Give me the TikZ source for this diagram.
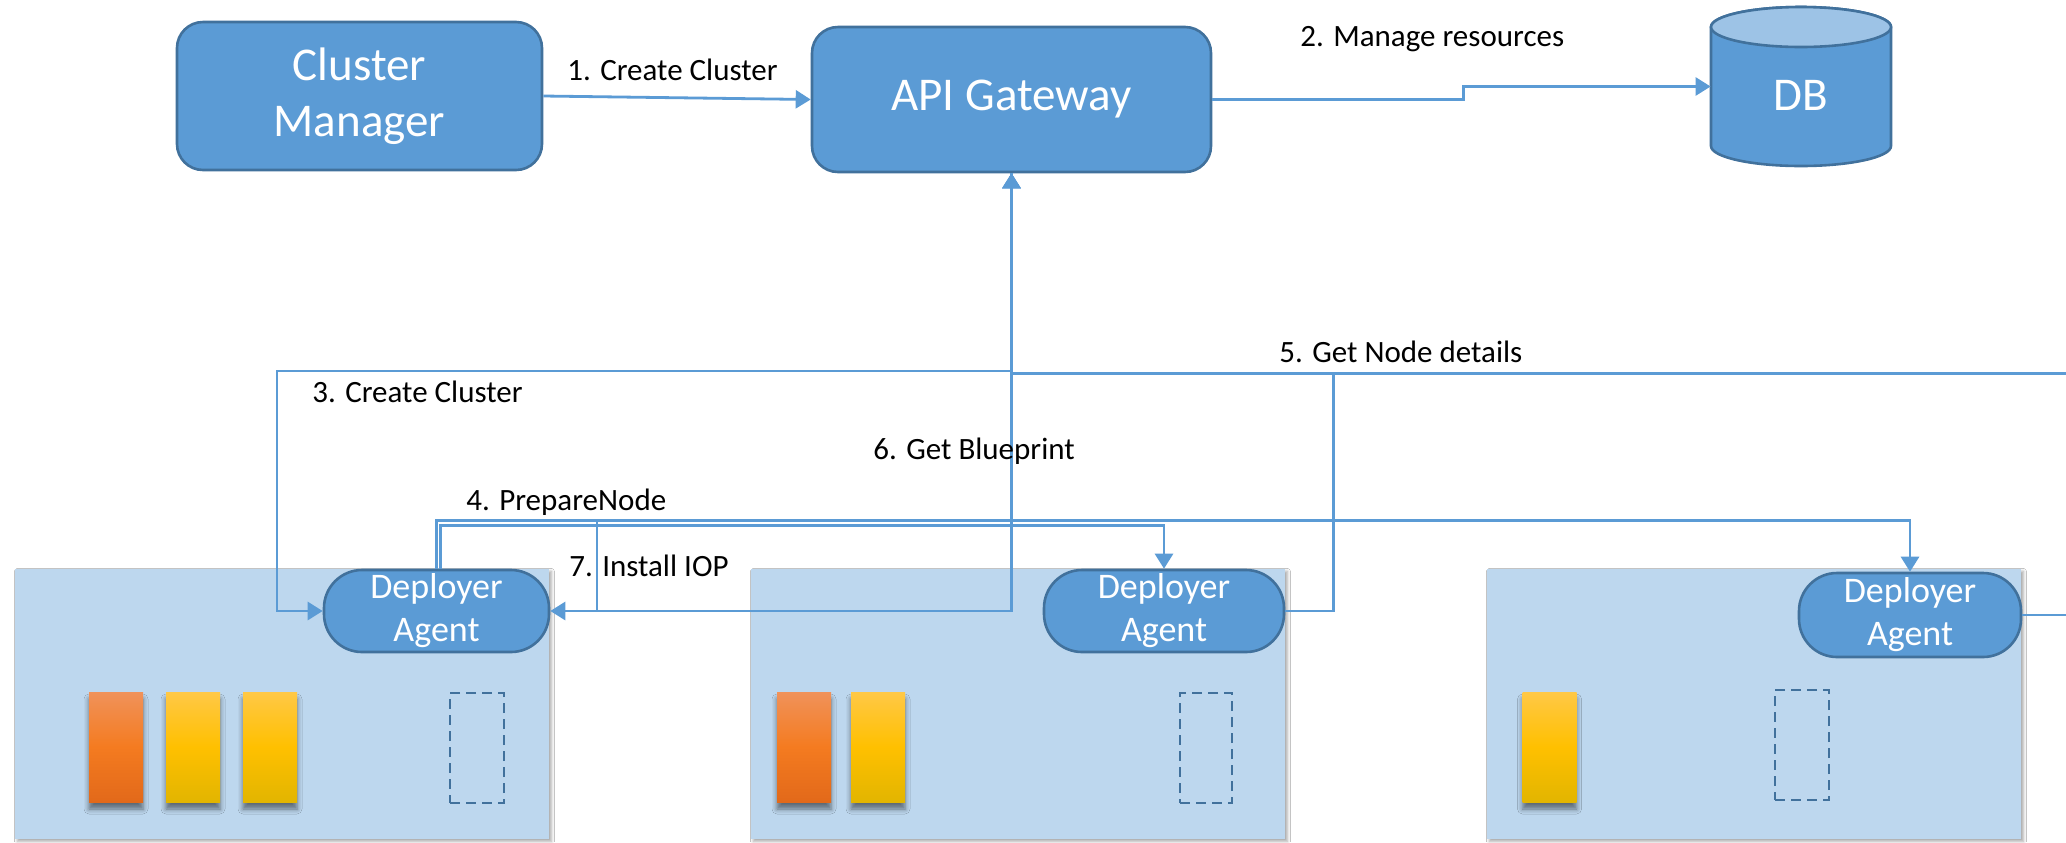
\documentclass[tikz,border=0pt]{standalone}
\usepackage{fontspec}
\setmainfont{Carlito}
\usetikzlibrary{arrows.meta,shadows.blur,calc}
\definecolor{boxblue}{HTML}{5B9BD5}
\definecolor{edgeblue}{HTML}{41719C}
\definecolor{paneblue}{HTML}{BDD7EE}
\definecolor{dbtop}{HTML}{9DC3E6}
\definecolor{wireblue}{HTML}{5B9BD5}
\definecolor{orangetop}{HTML}{F0925A}
\definecolor{orangemid}{HTML}{F47B20}
\definecolor{orangebot}{HTML}{E2691A}
\definecolor{goldtop}{HTML}{FFC846}
\definecolor{goldmid}{HTML}{FFC000}
\definecolor{goldbot}{HTML}{E2B500}

\begin{document}
\begin{tikzpicture}[x=0.5pt,y=-0.5pt,
  block/.style={draw=edgeblue,line width=1.3pt,fill=boxblue,rounded corners=13pt,
    text=white,font=\fontsize{23.5}{28}\selectfont,align=center,inner sep=0pt},
  agent/.style={draw=edgeblue,line width=1.3pt,fill=boxblue,rounded corners=19pt,
    text=white,font=\fontsize{18}{21.5}\selectfont,align=center,inner sep=0pt,
    minimum height=41pt},
  pane/.style={fill=paneblue,minimum width=267pt,minimum height=135pt,inner sep=0pt,
    blur shadow={shadow xshift=1.2pt,shadow yshift=-1.2pt,shadow blur radius=1.5pt,shadow opacity=35}},
  bar/.style={minimum width=27pt,minimum height=55pt,inner sep=0pt,
    blur shadow={shadow xshift=0pt,shadow yshift=-3.5pt,shadow blur radius=2.5pt,shadow opacity=50}},
  hot/.style={bar,top color=orangetop,bottom color=orangebot,middle color=orangemid},
  warm/.style={bar,top color=goldtop,bottom color=goldbot,middle color=goldmid},
  slot/.style={draw=edgeblue,line width=1.2pt,dash pattern=on 5pt off 3pt,
    minimum width=27pt,minimum height=55pt,inner sep=0pt},
  wire/.style={draw=wireblue,line width=1.4pt},
  arrowed/.style={wire,-{Triangle[length=7.5pt,width=9pt]}},
  lbl/.style={font=\fontsize{15.5}{18}\selectfont,inner sep=0pt,anchor=base west},
]
\useasboundingbox (0,0) rectangle (2066,842);
\clip (0,0) rectangle (2066,842);
\fill[white] (0,0) rectangle (2066,842);

% host panels
\node[pane] (p1) at (282,704) {};
\node[pane] (p2) at (1018,704) {};
\node[pane] (p3) at (1754,704) {};

% service bars and free slots
\node[hot]  (b11) at (116,747) {};
\node[warm] (b12) at (193,747) {};
\node[warm] (b13) at (270,747) {};
\node[slot] (s1)  at (477,748) {};
\node[hot]  (b21) at (804,747) {};
\node[warm] (b22) at (878,747) {};
\node[slot,minimum width=26pt] (s2) at (1206,748) {};
\node[warm] (b31) at (1549.5,747) {};
\node[slot] (s3)  at (1802,745) {};

% deployer agents
\node[agent,minimum width=112.5pt] (a1) at (436.5,611) {Deployer\\Agent};
\node[agent,minimum width=120pt] (a2) at (1164,611) {Deployer\\Agent};
\node[agent,minimum width=111pt,minimum height=42pt] (a3) at (1910,615) {Deployer\\Agent};

% top row
\node[block,minimum width=182.5pt,minimum height=74pt] (cm) at (359.5,96) {Cluster\\Manager};
\node[block,minimum width=199.5pt,minimum height=72.5pt] (gw) at (1011.5,99.5) {API Gateway};

% database cylinder
\filldraw[fill=boxblue,draw=edgeblue,line width=1.3pt]
  (1711,27) -- (1711,146)
  arc[start angle=180,end angle=360,x radius=45pt,y radius=10pt]
  -- (1891,27)
  arc[start angle=0,end angle=180,x radius=45pt,y radius=10pt] -- cycle;
\filldraw[fill=dbtop,draw=edgeblue,line width=1.3pt]
  (1801,27) ellipse[x radius=45pt,y radius=10pt];
\node[minimum width=90pt,minimum height=79.5pt,inner sep=0pt] (db) at (1801,86.5) {};
\node[text=white,font=\fontsize{23.5}{28}\selectfont,inner sep=0pt] (dbname) at (1801,95) {DB};

% junction points
\coordinate (bus) at ($(gw.south)+(0,200)$);
\coordinate (j3) at (277,371);
\coordinate (tap) at (597,522);

% connectors
\draw[arrowed] (cm.east) -- (gw.west);
\draw[arrowed] (gw.east) -- ++(251,0) |- (db.west);
\draw[arrowed] (gw.south) |- (j3) |- (a1.west);
\draw[arrowed] (a1.north) -- ++(0,-48) -| (a3.north);
\draw[arrowed] ($(a1.north)+(4,0)$) -- ++(0,-43) -| (a2.north);
\draw[arrowed] (a2.east) -- ++(48,0) |- (bus) -- (gw.south);
\draw[arrowed] (a3.east) -- ++(120,0) |- (bus) -- (gw.south);
\draw[arrowed] (tap) |- (gw.south |- a1.east) -- (gw.south);
\draw[arrowed] (gw.south) |- (a1.east);

% connector labels
\node[lbl] (l1) at (567,80)   {1. Create Cluster};
\node[lbl] (l2) at (1300,46)  {2. Manage resources};
\node[lbl] (l3) at (312,402)  {3. Create Cluster};
\node[lbl] (l4) at (466,510)  {4. PrepareNode};
\node[lbl] (l5) at (1279,362) {5. Get Node details};
\node[lbl] (l6) at (873,459)  {6. Get Blueprint};
\node[lbl] (l7) at (569,576)  {7. Install IOP};
\end{tikzpicture}
\end{document}
